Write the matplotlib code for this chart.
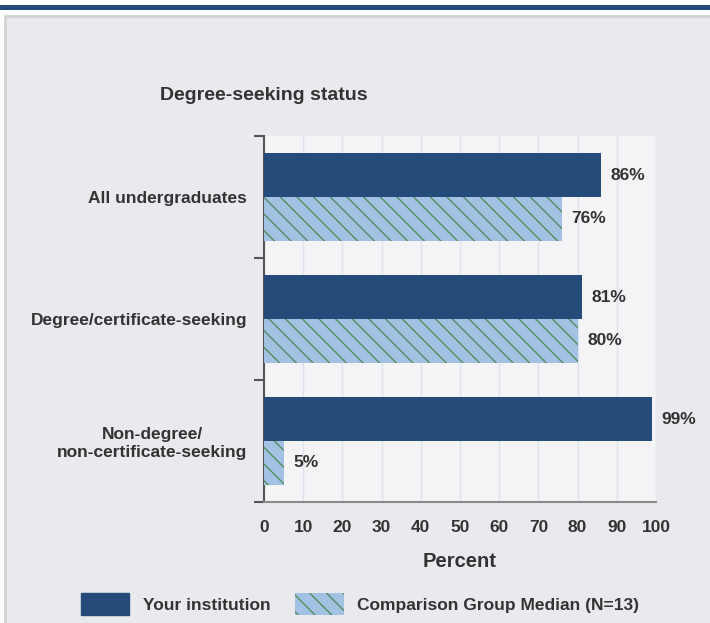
import matplotlib
matplotlib.use("Agg")
import matplotlib.pyplot as plt
from matplotlib.patches import Rectangle, Patch
import numpy as np

categories = ["All undergraduates", "Degree/certificate-seeking",
              "Non-degree/\nnon-certificate-seeking"]
your_inst = [86, 81, 99]
comparison = [76, 80, 5]
series_names = ["Your institution", "Comparison Group Median (N=13)"]
xticks = [0, 10, 20, 30, 40, 50, 60, 70, 80, 90, 100]

DARK = "#244b7a"
LIGHT = "#a3c1e3"
HATCH = "#4f8f5e"
TXT = "#333333"

plt.rcParams['font.family'] = ['Liberation Sans', 'DejaVu Sans']
plt.rcParams['hatch.color'] = HATCH
plt.rcParams['hatch.linewidth'] = 1.0

W, H = 710, 623
fig = plt.figure(figsize=(W / 100, H / 100), dpi=100)
fig.patch.set_facecolor("white")

# top band and panel
fig.add_artist(Rectangle((0, 1 - 10 / H), 1, 5 / H, transform=fig.transFigure,
                         facecolor="#23497a", edgecolor="none", zorder=-2))
fig.add_artist(Rectangle((5 / W, -0.01), 1, 1 - 16 / H + 0.01, transform=fig.transFigure,
                         facecolor="#e9eaee", edgecolor="#d2d2d4", linewidth=2, zorder=-2))

ax = fig.add_axes([264 / W, 1 - 502 / H, 392 / W, 366 / H])
ax.set_facecolor("#f4f4f6")

y = np.arange(len(categories))
h = 0.36
ax.barh(y - h / 2, your_inst, height=h, color=DARK, zorder=3)
ax.barh(y + h / 2, comparison, height=h, color=LIGHT, hatch="\\\\", edgecolor=HATCH,
        linewidth=0, zorder=3)

for i in range(len(categories)):
    ax.annotate(f"{your_inst[i]}%", (your_inst[i], y[i] - h / 2), xytext=(7, 0),
                textcoords="offset points", va="center", ha="left",
                fontsize=12.5, fontweight="bold", color=TXT)
    ax.annotate(f"{comparison[i]}%", (comparison[i], y[i] + h / 2), xytext=(7, 0),
                textcoords="offset points", va="center", ha="left",
                fontsize=12.5, fontweight="bold", color=TXT)

ax.set_xlim(0, 100)
ax.set_ylim(2.5, -0.5)
ax.set_xticks(xticks)
ax.set_xticklabels([str(t) for t in xticks], fontsize=12.5, fontweight="bold", color=TXT)
ax.tick_params(axis="x", length=0, pad=13)
ax.set_yticks(y)
ax.set_yticklabels(categories, fontsize=12.5, fontweight="bold", color=TXT,
                   multialignment="center")
ax.tick_params(axis="y", which="major", length=0, pad=12)
ax.set_yticks([-0.5, 0.5, 1.5, 2.5], minor=True)
ax.tick_params(axis="y", which="minor", length=7, width=1.5, color="#555555")
ax.grid(axis="x", color="#dbe4ef", linewidth=1, zorder=0)
for s in ["top", "right"]:
    ax.spines[s].set_visible(False)
ax.spines["left"].set_color("#555555")
ax.spines["left"].set_linewidth(1.5)
ax.spines["bottom"].set_color("#8a8a8a")
ax.spines["bottom"].set_linewidth(1.5)

ax.set_xlabel("Percent", fontsize=14.5, fontweight="bold", color=TXT, labelpad=12)

fig.text(160 / W, 1 - 95 / H, "Degree-seeking status", fontsize=14, fontweight="bold",
         color=TXT, va="center", ha="left")

handles = [Patch(facecolor=DARK, edgecolor=DARK),
           Patch(facecolor=LIGHT, edgecolor=HATCH, linewidth=0, hatch="\\\\")]
fig.legend(handles, series_names, loc="center", bbox_to_anchor=(360 / W, 1 - 604 / H),
           ncol=2, frameon=False, handlelength=2.8, handleheight=1.6,
           columnspacing=1.4, handletextpad=0.8, labelcolor=TXT,
           prop={"weight": "bold", "size": 12.5})

fig.savefig("out.png", dpi=100)
